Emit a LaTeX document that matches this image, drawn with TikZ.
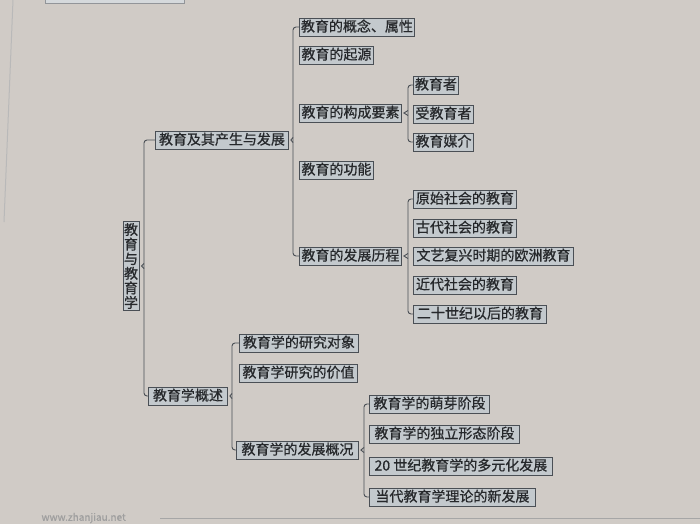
\documentclass[tikz,border=0pt]{standalone}
\usepackage{fontspec}
\setmainfont{Noto Sans CJK SC}[FakeBold=0.7]
\usetikzlibrary{calc}
\definecolor{paper}{HTML}{D0CBC6}
\definecolor{boxfill}{HTML}{C3C9CD}
\definecolor{ink}{HTML}{26282B}
\definecolor{edgec}{HTML}{4A4F55}
\tikzset{
  boxbase/.style={draw=edgec, line width=0.9pt, fill=boxfill, text=ink, inner xsep=1.5pt, inner ysep=0pt},
  box/.style={boxbase, anchor=west, font=\fontsize{14}{14}\selectfont, minimum height=18pt, text height=11.5pt, text depth=2.5pt},
  rootbox/.style={boxbase, anchor=center, font=\fontsize{14}{14.6}\selectfont, align=center, text width=14pt, minimum width=16pt, minimum height=89pt, inner xsep=1pt},
  brc/.style={draw=edgec, line width=0.9pt},
}
% #1 parent, #2 top child, #3 bottom child, #4 x of brace line
\newcommand\drawbrace[4]{%
  \draw[brc, rounded corners=3pt] let \p2=(#2.west), \p3=(#3.west) in
    (\x2,\y2) -- (#4,\y2) -- (#4,\y3) -- (\x3,\y3);
  \draw[brc] let \p1=(#1.east) in
    (#4,\y1+2.5) -- (\x1+2pt,\y1) -- (#4,\y1-2.5);
}
\begin{document}
\begin{tikzpicture}[x=1pt,y=-1pt]
\fill[paper] (0,0) rectangle (700,524);
\useasboundingbox (0,0) rectangle (700,524);
% page edge remnants
\draw[edgec!60, fill=boxfill!70!white, line width=0.8pt] (45,-6) rectangle (184,3);
\draw[gray!55, line width=1pt] (13,0) -- (4,222);
\draw[gray!70, line width=1.2pt] (160,518.5) -- (700,518.5);
\node[text=gray!75, font=\fontsize{10}{10}\selectfont, anchor=west] (wm) at (38,518) {www.zhanjiau.net};
% root
\node[rootbox] (root) at (131,266) {教\\育\\与\\教\\育\\学};
% level 1
\node[box, minimum width=133pt] (n1) at (155,140) {教育及其产生与发展};
\node[box, minimum width=79pt]  (n2) at (148,396) {教育学概述};
% level 2 (upper)
\node[box, minimum width=110pt] (a1) at (299,27)  {教育的概念、属性};
\node[box, minimum width=74pt]  (a2) at (299,55)  {教育的起源};
\node[box, minimum width=102pt] (a3) at (299,113) {教育的构成要素};
\node[box, minimum width=74pt]  (a4) at (299,170) {教育的功能};
\node[box, minimum width=102pt] (a5) at (299,256) {教育的发展历程};
% level 3 (elements)
\node[box, minimum width=45pt] (b1) at (413,85)  {教育者};
\node[box, minimum width=60pt] (b2) at (413,114) {受教育者};
\node[box, minimum width=60pt] (b3) at (413,142) {教育媒介};
% level 3 (history)
\node[box, minimum width=103pt] (c1) at (413,199) {原始社会的教育};
\node[box, minimum width=103pt] (c2) at (413,228) {古代社会的教育};
\node[box, minimum width=160pt] (c3) at (413,256) {文艺复兴时期的欧洲教育};
\node[box, minimum width=103pt] (c4) at (413,285) {近代社会的教育};
\node[box, minimum width=133pt] (c5) at (413,314) {二十世纪以后的教育};
% level 2 (lower)
\node[box, minimum width=119pt] (d1) at (239,343) {教育学的研究对象};
\node[box, minimum width=118pt] (d2) at (239,373) {教育学研究的价值};
\node[box, minimum width=122pt] (d3) at (236,450) {教育学的发展概况};
% level 3 (pedagogy development)
\node[box, minimum width=120pt] (e1) at (369,404) {教育学的萌芽阶段};
\node[box, minimum width=150pt] (e2) at (369,434) {教育学的独立形态阶段};
\node[box, minimum width=183pt] (e3) at (369,466) {20 世纪教育学的多元化发展};
\node[box, minimum width=166pt] (e4) at (369,497) {当代教育学理论的新发展};
% braces
\drawbrace{root}{n1}{n2}{144pt}
\drawbrace{n1}{a1}{a5}{293pt}
\drawbrace{a3}{b1}{b3}{408pt}
\drawbrace{a5}{c1}{c5}{408pt}
\drawbrace{n2}{d1}{d3}{232pt}
\drawbrace{d3}{e1}{e4}{364pt}
\end{tikzpicture}
\end{document}
